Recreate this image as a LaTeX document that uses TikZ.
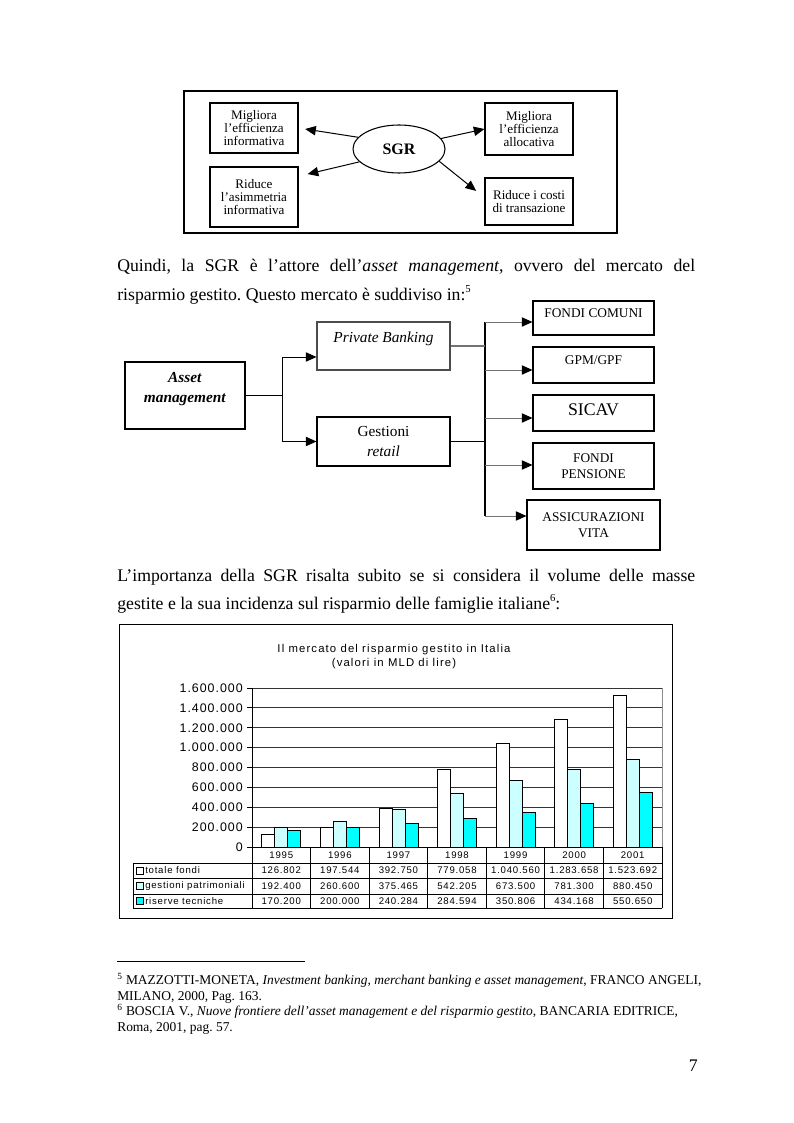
\documentclass[tikz,border=0pt]{standalone}
\usepackage{fontspec}
\setmainfont{Liberation Serif}
\newfontfamily\chartfont[LetterSpace=8]{Liberation Sans}
\newfontfamily\charttitlefont[LetterSpace=10]{Liberation Sans}
\newfontfamily\tablefont[LetterSpace=8]{Liberation Sans}
\usepackage{tikz}
\usetikzlibrary{shapes.geometric, arrows, arrows.meta, positioning}
\definecolor{lightcyan}{HTML}{CCFFFF}
\definecolor{brightcyan}{HTML}{00FFFF}
\frenchspacing
\newcommand{\notemark}[1]{\raisebox{0.42em}{\fontsize{8}{8}\selectfont #1}}
\tikzstyle{arrow} = [->, >={Triangle[length=8pt, width=7pt]}, line width=0.75pt]
\tikzstyle{grayarrow} = [arrow, draw=black!55, >={Triangle[length=8pt, width=7pt, color=black]}]
\tikzstyle{effect} = [rectangle, draw=black, line width=0.8pt, minimum width=66pt, inner sep=0pt, align=center, font=\fontsize{9.8}{10}\selectfont]
\tikzstyle{market} = [rectangle, draw=black, line width=0.8pt, inner sep=0pt, font=\fontsize{11.5}{15}\selectfont]
\tikzstyle{product} = [rectangle, draw=black, line width=0.8pt, minimum width=90.75pt, inner sep=0pt, align=center, font=\fontsize{10}{12}\selectfont]
\tikzstyle{bodyline} = [anchor=base west, inner sep=0pt, font=\fontsize{13.3}{21}\selectfont]
\tikzstyle{noteline} = [anchor=base west, inner sep=0pt, font=\fontsize{10.1}{12}\selectfont]
\tikzstyle{axislabel} = [anchor=east, inner sep=0pt, font=\chartfont\fontsize{9.3}{10}\selectfont]
\tikzstyle{tablecell} = [inner sep=0pt, font=\tablefont\fontsize{7.2}{8}\selectfont]
\tikzstyle{chartbar} = [draw=black, line width=0.6pt]

\begin{document}
\begin{tikzpicture}[x=0.75pt, y=-0.75pt]
\useasboundingbox (0,0) rectangle (793,1123);

% the SGR and its effects
\draw [line width=0.8pt] (184,91) rectangle (617,233);
\node (sgr) [ellipse, draw, line width=0.8pt, minimum width=69pt, minimum height=36pt, inner sep=0pt, font=\fontsize{12}{14}\selectfont\bfseries] at (399,149) {SGR};
\node (effinf) [effect, minimum height=37.5pt] at (254,128) {Migliora\\l’efficienza\\informativa};
\node (asiminf) [effect, minimum height=45pt] at (254,197) {Riduce\\l’asimmetria\\informativa};
\node (effall) [effect, minimum height=39pt] at (529,129) {Migliora\\l’efficienza\\allocativa};
\node (costi) [effect, minimum height=35.25pt] at (529,201.5) {Riduce i costi\\di transazione};

\draw [arrow, shorten >=5pt] (sgr.164) -- (effinf.east);
\draw [arrow, shorten >=7pt] (sgr.198) -- (asiminf.25);
\draw [arrow] (sgr.14) -- (effall.west);
\draw [arrow, shorten >=8pt] (sgr.-17) -- (costi.175);

\node (quindi) [bodyline] at (117,271) {\makebox[433.5pt][s]{Quindi, la SGR è l’attore dell’\textit{asset management}, ovvero del mercato del}};
\node (risparmio) [bodyline] at (117,300) {risparmio gestito. Questo mercato è suddiviso in:\notemark{5}};

% asset management tree
\node (asset) [market, minimum width=90pt, text height=30pt, text depth=20.25pt] at (185,395.5) {\begin{tabular}[b]{@{}c@{}}\textbf{\textit{Asset}}\\ \textbf{\textit{management}}\end{tabular}};
\node (pb) [market, draw=black!70, minimum width=99.75pt, text height=15.25pt, text depth=20.75pt] at (383.5,346) {\textit{Private Banking}};
\node (gest) [market, align=center, minimum width=99.75pt, minimum height=36.75pt] at (383.5,441.5) {Gestioni\\\textit{retail}};
\node (fondi) [product, text height=12.3pt, text depth=13.2pt] at (593.5,318) {FONDI COMUNI};
\node (gpm) [product, text height=13pt, text depth=14pt] at (593.5,365) {GPM/GPF};
\node (sicav) [product, text height=15.6pt, text depth=11.4pt, font=\fontsize{13.3}{15}\selectfont] at (593.5,413) {SICAV};
\node (pens) [product, minimum height=34.5pt] at (593.5,466) {FONDI\\PENSIONE};
\node (vita) [product, minimum width=99.75pt, minimum height=37.5pt] at (593.5,525) {ASSICURAZIONI\\VITA};

\coordinate (split) at (282,395.5);
\draw [line width=0.8pt] (asset.east) -- (split);
\draw [arrow] (split) |- ([yshift=-8.25pt]pb.west);
\draw [arrow] (split) |- (gest.west);

\coordinate (bustop) at (485,322);
\coordinate (busbot) at (485,516);
\draw [line width=0.8pt] (bustop) -- (busbot);
\draw [line width=0.8pt, draw=black!55] (pb.east) -- (pb.east -| bustop);
\draw [line width=0.8pt] (gest.east) -- (gest.east -| bustop);
\foreach \target/\y in {fondi/322, gpm/370, sicav/418, pens/465, vita/516}
{
  \coordinate (bus\target) at (485,\y);
  \draw [grayarrow] (bus\target) -- (bus\target -| \target.west);
}

\node (importanza) [bodyline] at (117,581) {\makebox[433.5pt][s]{L’importanza della SGR risalta subito se si considera il volume delle masse}};
\node (gestite) [bodyline] at (117,609) {gestite e la sua incidenza sul risparmio delle famiglie italiane\notemark{6}:};

% chart of the managed savings
\draw [line width=0.75pt] (119,624) rectangle (672,918);
\node (title) [align=center, inner sep=0pt, font=\charttitlefont\fontsize{8.5}{10.5}\selectfont] at (394,657) {Il mercato del risparmio gestito in Italia\\(valori in MLD di lire)};

\foreach \j in {1,...,8}
  \draw [black!80, line width=0.6pt] (252,{847-\j*19.875}) -- (662,{847-\j*19.875});
\draw [black!45, line width=0.6pt] (662,688) -- (662,847);
\foreach \lab [count=\j from 0] in {0, 200.000, 400.000, 600.000, 800.000, 1.000.000, 1.200.000, 1.400.000, 1.600.000}
{
  \draw [line width=0.6pt] (247,{847-\j*19.875}) -- (252,{847-\j*19.875});
  \node (ylab\j) [axislabel] at (243,{847-\j*19.875}) {\lab};
}

\foreach \v/\lab [count=\k from 0] in {126.802/126.802, 197.544/197.544, 392.750/392.750, 779.058/779.058, 1040.560/1.040.560, 1283.658/1.283.658, 1523.692/1.523.692}
{
  \draw [chartbar, fill=white] ({261.762+\k*58.571},847) rectangle ++(13.016,{-\v*0.099375});
  \node (tot\k) [tablecell] at ({281.286+\k*58.571},870.5) {\lab};
}
\foreach \v/\lab [count=\k from 0] in {192.400/192.400, 260.600/260.600, 375.465/375.465, 542.205/542.205, 673.500/673.500, 781.300/781.300, 880.450/880.450}
{
  \draw [chartbar, fill=lightcyan] ({274.778+\k*58.571},847) rectangle ++(13.016,{-\v*0.099375});
  \node (gp\k) [tablecell] at ({281.286+\k*58.571},886) {\lab};
}
\foreach \v/\lab [count=\k from 0] in {170.200/170.200, 200.000/200.000, 240.284/240.284, 284.594/284.594, 350.806/350.806, 434.168/434.168, 550.650/550.650}
{
  \draw [chartbar, fill=brightcyan] ({287.794+\k*58.571},847) rectangle ++(13.016,{-\v*0.099375});
  \node (rt\k) [tablecell] at ({281.286+\k*58.571},901) {\lab};
}
\foreach \yr [count=\k from 0] in {1995,...,2001}
  \node (year\k) [tablecell] at ({281.286+\k*58.571},855) {\yr};

\draw [line width=0.75pt] (252,688) -- (252,908);
\draw [line width=0.75pt] (252,847) -- (662,847);
\foreach \yl in {863, 878.5, 894, 908}
  \draw [line width=0.75pt] (133,\yl) -- (662,\yl);
\draw [line width=0.75pt] (133,863) -- (133,908);
\foreach \k in {1,...,7}
  \draw [line width=0.75pt] ({252+\k*58.571},847) -- ({252+\k*58.571},908);
\foreach \lab/\col/\yc [count=\r] in {totale fondi/white/870.5, gestioni patrimoniali/lightcyan/886, riserve tecniche/brightcyan/901}
{
  \draw [fill=\col, line width=0.5pt] (136,{\yc-3.5}) rectangle ++(7,7);
  \node (legend\r) [tablecell, anchor=west] at (145,\yc) {\lab};
}

% footnotes
\draw [line width=0.6pt] (117,961) -- (305,961);
\node (note5a) [noteline] at (117,984) {\textsuperscript{5} MAZZOTTI-MONETA, \textit{Investment banking, merchant banking e asset management}, FRANCO ANGELI,};
\node (note5b) [noteline] at (117,1000) {MILANO, 2000, Pag. 163.};
\node (note6a) [noteline] at (117,1015) {\textsuperscript{6} BOSCIA V., \textit{Nuove frontiere dell’asset management e del risparmio gestito}, BANCARIA EDITRICE,};
\node (note6b) [noteline] at (117,1031) {Roma, 2001, pag. 57.};

\node (pagenum) [anchor=base east, inner sep=0pt, font=\fontsize{13.3}{15}\selectfont] at (698,1071) {7};
\end{tikzpicture}
\end{document}
